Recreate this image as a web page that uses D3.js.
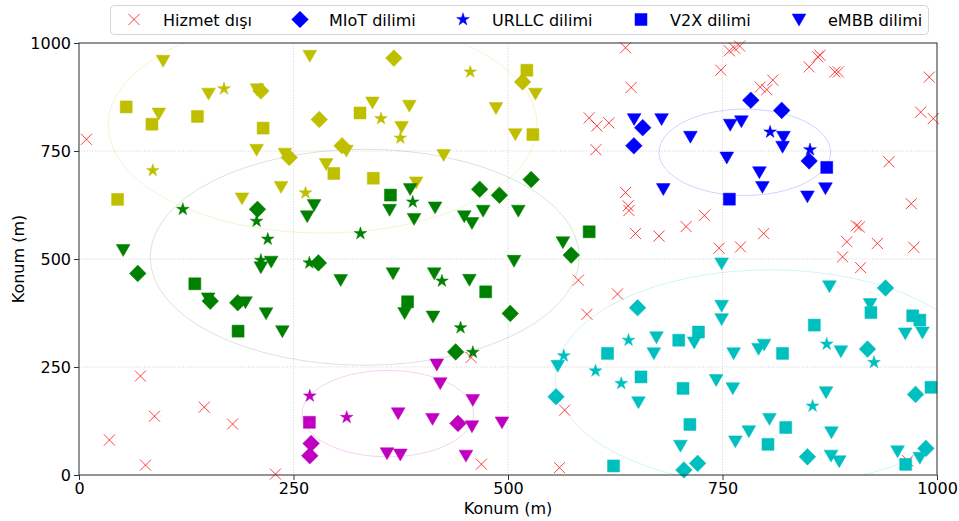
<!DOCTYPE html>
<html><head><meta charset="utf-8">
<script src="https://cdn.jsdelivr.net/npm/d3@7"></script>
<style>body{margin:0;background:#fff}svg{display:block;font-family:"DejaVu Sans",sans-serif}</style>
</head><body><svg id="c" width="959" height="521"></svg>
<script>
// cluster colours: 0 yellow, 1 green, 2 blue, 3 magenta, 4 cyan
const clusterColors = ["#bfbf00", "#008000", "#0000ff", "#bf00bf", "#00bfbf"];
// coverage circles [cx, cy, r, cluster]
const regions = [[284, 810, 250, 0], [333, 504, 250, 1], [776, 747, 100, 2], [360, 142, 100, 3], [805, 225, 250, 4]];
const xTicks = [0, 250, 500, 750, 1000];
const yTicks = [0, 250, 500, 750, 1000];
const legendLabels = ["Hizmet dışı", "MIoT dilimi", "URLLC dilimi", "V2X dilimi", "eMBB dilimi"];

const outOfService = [[8.7,777],[35.5,81],[71.6,229],[77.5,23],[88,136],[146,157],[179,118],[229,2],
[457,272],[469,25],[566,150],[560,17],
[637,654],[640,623],[641,612],[648.6,559],[676,553],[707.6,575],[729,601],[746,525],[582,451],[627.6,419],[592,372],
[771,528],[798,559],[970,628],[906,577],[909.5,574],[895,540],[930.5,536],[973,527],[890,505],[911,480],
[637,989],[643.6,897],[594.6,826.6],[603.6,808],[617.6,815],[602.4,753],[748,937],
[758,982],[764,988],[770,993],[794,898],[801.6,892],[808.6,914],[851,944.6],[861,968],[863.7,971.5],[881,933],[885,933],[991,921],[981,840],[995.7,825],[944,725],[966,33]];

// [x, y, cluster]
const miot = [[212,889,0],[245,735,0],[280,823,0],[306.6,762,0],[367,965,0],[517,910,0],
[208,615,1],[68.5,466.6,1],[153,402.5,1],[185,398.6,1],[467,661.6,1],[490,647.7,1],[279,491,1],[502.6,374,1],[439,285,1],[573.7,509,1],[527,684,1],
[657,804,2],[646.7,762,2],[783,867.5,2],[819,844,2],[851,727,2],
[441.7,119.5,3],[270.5,73,3],[269,44.7,3],
[651,387,4],[556,181,4],[721,27,4],[705,11.6,4],[940,433,4],[919,291.5,4],[975,186.6,4],[849,42,4],[987,61.6,4]];

const urllc = [[169,894,0],[86,705,0],[456,933,0],[352,825,0],[374.5,780,0],[264,653,0],
[121,615,1],[207,587.5,1],[220,546,1],[212,497,1],[389,632,1],[328,559,1],[268.5,491,1],[423,449,1],[444.7,341,1],[459,284,1],
[805.5,794,2],[852,753,2],
[269,183,3],[312,133.5,3],
[640.5,312,4],[565,276,4],[602,241,4],[632,212,4],[871.5,303,4],[926.6,260.6,4],[855,159.6,4]];

const v2x = [[55,852,0],[85,812,0],[138,830,0],[214.6,803,0],[327.5,838,0],[297,698,0],[343,687,0],[522,937,0],[529,788,0],[45,638,0],
[135,442.6,1],[185.4,333,1],[363,648,1],[474,424,1],[383,401,1],[594.6,563,1],
[871.5,712,2],[758,638.5,2],
[268.5,122,3],
[722,331,4],[699,312,4],[616,281.5,4],[655,227,4],[704,200.5,4],[712,117,4],[623,21,4],[923,376,4],[857,347,4],[971.7,368.5,4],[980,358.5,4],[820,281.5,4],[993,203,4],[823.7,110,4],[803,71,4],[963.5,24.6,4]];

const embb = [[98,960,0],[151,884,0],[207.5,894,0],[93,838,0],[207,754,0],[240,745,0],[235.5,668,0],[269,971.5,0],[342,863.5,0],[385,856,0],[486,850.5,0],[376,807,0],[311.6,752,0],[425,742,0],[288,721,0],[393,678.5,0],[532,884,0],[508.5,790,0],[190,641.5,0],
[51.5,522,1],[212,482,1],[224,495,1],[150.5,410,1],[194,401,1],[218,375.5,1],[237,334,1],[386,663,1],[274,626,1],[266,600,1],[362,615,1],[390.5,594,1],[415,620.6,1],[449,600,1],[458,584.5,1],[471,613,1],[305,452.7,1],[366,468,1],[414,468,1],[455,453,1],[379.5,376,1],[412.6,368,1],[512,613,1],[564,540,1],[507,497,1],
[647,825,2],[679,825,2],[712.6,784,2],[755,736,2],[681,663,2],[759,812,2],[772,820,2],[821,784,2],[820,761,2],[793,702,2],[796.5,668,2],[870,665,2],[849,646,2],
[417,257,3],[421,213.6,3],[459,175,3],[372,144,3],[412,131,3],[493,123,3],[458,114,3],[359,51.6,3],[374.5,48.6,3],[451,46,3],
[749,491,4],[749,393,4],[749,362,4],[673,320,4],[717,308,4],[558,254,4],[670,283,4],[652,169.6,4],[742.6,221,4],[701,69,4],[874.6,438,4],[922,397,4],[963,329,4],[983,331,4],[763,283,4],[792,293,4],[798.5,303,4],[888,287.6,4],[762,202,4],[870.7,192.7,4],[804.7,131,4],[780.7,102.5,4],[765,79,4],[877,100,4],[876.5,46,4],[886,33,4],[954,56,4],[980,41,4]];

const svg = d3.select("#c");
const m = {l: 79, t: 43, w: 858, h: 432};
const x = d3.scaleLinear().domain([0, 1000]).range([m.l, m.l + m.w]);
const y = d3.scaleLinear().domain([0, 1000]).range([m.t + m.h, m.t]);

svg.append("defs").append("clipPath").attr("id", "pc")
  .append("rect").attr("x", m.l).attr("y", m.t).attr("width", m.w).attr("height", m.h);

// grid
const g = svg.append("g");
g.selectAll(".gx").data(xTicks).join("line")
  .attr("x1", d => x(d)).attr("x2", d => x(d)).attr("y1", m.t).attr("y2", m.t + m.h)
  .attr("stroke", "#b0b0b0").attr("stroke-opacity", 0.7).attr("stroke-width", 0.8).attr("stroke-dasharray", "1,1.6");
g.selectAll(".gy").data(yTicks).join("line")
  .attr("y1", d => y(d)).attr("y2", d => y(d)).attr("x1", m.l).attr("x2", m.l + m.w)
  .attr("stroke", "#b0b0b0").attr("stroke-opacity", 0.7).attr("stroke-width", 0.8).attr("stroke-dasharray", "1,1.6");

const plot = svg.append("g").attr("clip-path", "url(#pc)");

// coverage ellipses (circles in data space)
plot.selectAll(".reg").data(regions).join("ellipse")
  .attr("cx", d => x(d[0])).attr("cy", d => y(d[1]))
  .attr("rx", d => x(d[2]) - x(0)).attr("ry", d => y(0) - y(d[2]))
  .attr("fill", "none").attr("stroke", d => clusterColors[d[3]])
  .attr("stroke-opacity", 0.2).attr("stroke-width", 0.9);

const sym = {
  x: d3.symbol().type(d3.symbolX).size(82),
  diamond: d3.symbol().type(d3.symbolSquare).size(138),
  star: d3.symbol().type(d3.symbolStar).size(50),
  square: d3.symbol().type(d3.symbolSquare).size(144),
  tri: d3.symbol().type(d3.symbolTriangle).size(82)
};

const mg = svg.append("g");
mg.selectAll(".oos").data(outOfService).join("path")
  .attr("d", sym.x()).attr("transform", d => `translate(${x(d[0])},${y(d[1])})`)
  .attr("fill", "none").attr("stroke", "red").attr("stroke-opacity", 0.75).attr("stroke-width", 1);

function draw(data, gen, rot, dy) {
  mg.append("g").selectAll("path").data(data).join("path")
    .attr("d", gen())
    .attr("transform", d => `translate(${x(d[0])},${y(d[1]) + dy}) rotate(${rot})`)
    .attr("fill", d => clusterColors[d[2]]).attr("stroke", d => clusterColors[d[2]]).attr("stroke-width", 0.5);
}
draw(miot, sym.diamond, 45, 0);
draw(urllc, sym.star, 0, 0);
draw(v2x, sym.square, 0, 0);
draw(embb, sym.tri, 180, -1);

// spines
svg.append("rect").attr("x", m.l).attr("y", m.t).attr("width", m.w).attr("height", m.h)
  .attr("fill", "none").attr("stroke", "#333").attr("stroke-width", 1);

// axes
const xa = svg.append("g").attr("transform", `translate(0,${m.t + m.h})`)
  .call(d3.axisBottom(x).tickValues(xTicks).tickFormat(d3.format("d")).tickSize(5).tickPadding(3));
const ya = svg.append("g").attr("transform", `translate(${m.l},0)`)
  .call(d3.axisLeft(y).tickValues(yTicks).tickFormat(d3.format("d")).tickSize(5).tickPadding(3));
[xa, ya].forEach(a => {
  a.select(".domain").remove();
  a.selectAll("line").attr("stroke", "#333");
  a.selectAll("text").attr("font-size", 16).attr("fill", "#000").attr("font-family", "DejaVu Sans");
});

svg.append("text").attr("x", m.l + m.w / 2).attr("y", 514).attr("text-anchor", "middle")
  .attr("font-size", 16).text("Konum (m)");
svg.append("text").attr("transform", `translate(24,${m.t + m.h / 2}) rotate(-90)`).attr("text-anchor", "middle")
  .attr("font-size", 16).text("Konum (m)");

// legend
const lg = svg.append("g");
lg.append("rect").attr("x", 110.5).attr("y", 5.5).attr("width", 818).attr("height", 29).attr("rx", 4)
  .attr("fill", "#fff").attr("fill-opacity", 0.8).attr("stroke", "#d6d6d6");
const legX = [134, 300, 463, 641, 799];
const legSym = [sym.x, sym.diamond, sym.star, sym.square, sym.tri];
const legRot = [0, 45, 0, 0, 180];
legendLabels.forEach((t, i) => {
  const p = lg.append("path").attr("d", legSym[i]()).attr("transform", `translate(${legX[i]},${i === 4 ? 18 : 19.5}) rotate(${legRot[i]})`);
  if (i === 0) p.attr("fill", "none").attr("stroke", "red").attr("stroke-opacity", 0.75);
  else p.attr("fill", "#0000ff").attr("stroke", "#0000ff").attr("stroke-width", 0.5);
  lg.append("text").attr("x", legX[i] + 29).attr("y", 25.5).attr("font-size", 16).text(t);
});
</script></body></html>
